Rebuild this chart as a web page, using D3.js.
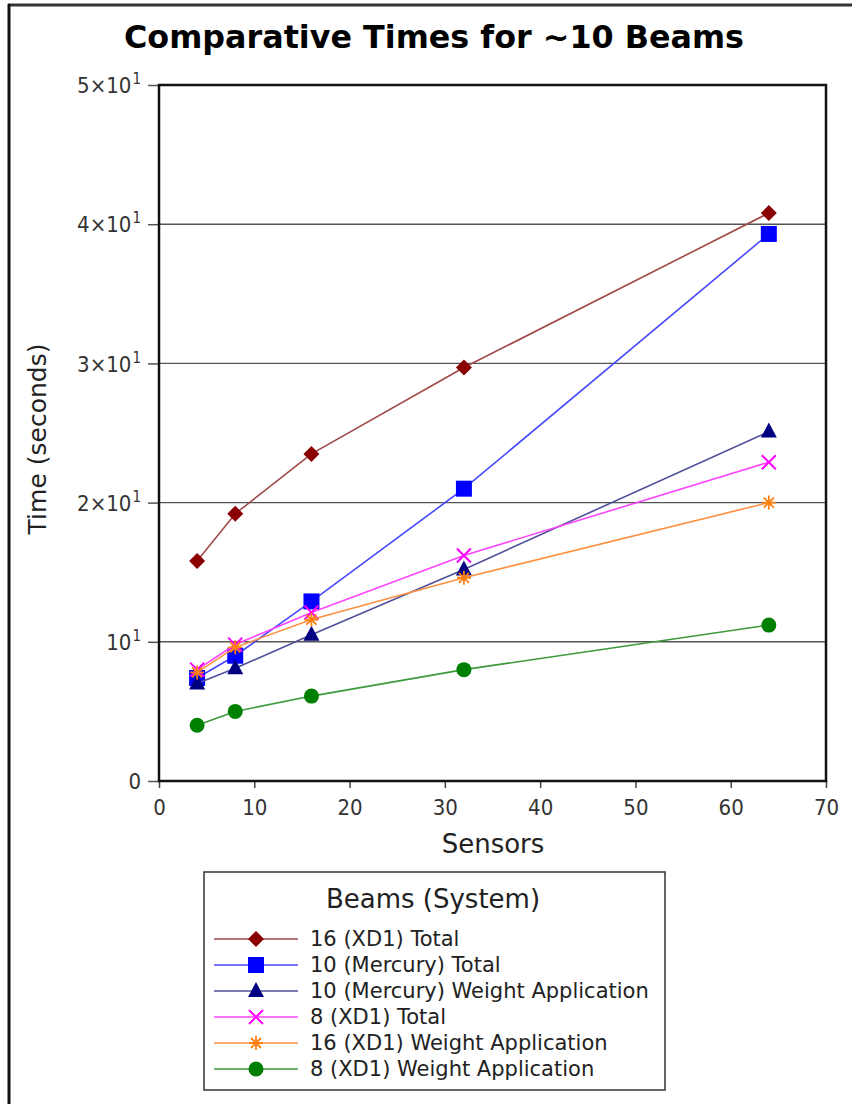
<!DOCTYPE html>
<html><head><meta charset="utf-8">
<script src="https://cdn.jsdelivr.net/npm/d3@7"></script>
<style>body{margin:0;background:#fff;}svg{display:block;font-family:"DejaVu Sans",sans-serif;}</style>
</head><body><svg id="c" width="852" height="1104"></svg>
<script>
const sensors = [4, 8, 16, 32, 64];
const seriesNames = ["16 (XD1) Total","10 (Mercury) Total","10 (Mercury) Weight Application","8 (XD1) Total","16 (XD1) Weight Application","8 (XD1) Weight Application"];
const xd1Total16 = [15.8, 19.2, 23.5, 29.7, 40.8];
const mercuryTotal10 = [7.4, 9.0, 12.9, 21.0, 39.3];
const mercuryWeight10 = [7.0, 8.1, 10.5, 15.2, 25.1];
const xd1Total8 = [8.0, 9.8, 12.1, 16.2, 22.9];
const xd1Weight16 = [7.8, 9.6, 11.6, 14.6, 20.0];
const xd1Weight8 = [4.0, 5.0, 6.1, 8.0, 11.2];
const yTicks = [0, 10, 20, 30, 40, 50];
const yTickMant = ["0", "", "2", "3", "4", "5"];
const xTicks = [0, 10, 20, 30, 40, 50, 60, 70];

const seriesVals = [xd1Total16, mercuryTotal10, mercuryWeight10, xd1Total8, xd1Weight16, xd1Weight8];
const markerColor = ["#8b0000", "#0000ff", "#000080", "#ff00ff", "#ff7f0e", "#008000"];
const lineColor = ["#a04848", "#4848ff", "#50509a", "#ff44ff", "#ff9040", "#3c9a3c"];
const shapes = ["diamond", "square", "triangle", "x", "asterisk", "circle"];
const tickFont = "'DejaVu Sans Condensed', 'DejaVu Sans', sans-serif";

const svg = d3.select("#c");
svg.append("rect").attr("x", 0).attr("y", 0).attr("width", 852).attr("height", 1104).attr("fill", "#fff");
svg.append("line").attr("x1", 8).attr("x2", 852).attr("y1", 5).attr("y2", 5).attr("stroke", "#333").attr("stroke-width", 3);
svg.append("line").attr("x1", 9).attr("x2", 9).attr("y1", 4).attr("y2", 1104).attr("stroke", "#111").attr("stroke-width", 3);

const L = 159, R = 826, T = 85, B = 781;
const x = d3.scaleLinear().domain([0, 70]).range([L, R]);
const y = d3.scaleLinear().domain([0, 50]).range([B, T]);

svg.append("text").attr("x", 434).attr("y", 48).attr("text-anchor", "middle")
  .attr("font-size", 32).attr("font-weight", "bold").attr("fill", "#000")
  .attr("textLength", 620).attr("lengthAdjust", "spacingAndGlyphs")
  .text("Comparative Times for ~10 Beams");

svg.append("g").selectAll("line").data(yTicks.filter(d => d > 0 && d < 50)).join("line")
  .attr("x1", L).attr("x2", R).attr("y1", d => y(d)).attr("y2", d => y(d))
  .attr("stroke", "#555").attr("stroke-width", 1.4);

const xAxis = svg.append("g").attr("transform", `translate(0,${B})`)
  .call(d3.axisBottom(x).tickValues(xTicks).tickSize(7).tickPadding(11).tickFormat(d3.format("d")));
xAxis.select(".domain").remove();
xAxis.selectAll("line").attr("stroke", "#444").attr("stroke-width", 1.5);
xAxis.selectAll("text").attr("font-size", 22).attr("fill", "#333").attr("font-family", tickFont);

const yAxis = svg.append("g").attr("transform", `translate(${L},0)`)
  .call(d3.axisLeft(y).tickValues(yTicks).tickSize(11).tickPadding(7).tickFormat(() => ""));
yAxis.select(".domain").remove();
yAxis.selectAll("line").attr("stroke", "#555").attr("stroke-width", 1.5);
yAxis.selectAll(".tick text").each(function(d, i) {
  const t = d3.select(this).attr("font-size", 22).attr("fill", "#333").attr("font-family", tickFont).attr("dy", "0.35em");
  if (d === 0) { t.text("0"); return; }
  const m = yTickMant[i];
  t.append("tspan").text(m ? m + "×10" : "10");
  t.append("tspan").attr("dy", "-0.6em").attr("dx", 1).attr("font-size", 15).text("1");
});

svg.append("rect").attr("x", L).attr("y", T).attr("width", R - L).attr("height", B - T)
  .attr("fill", "none").attr("stroke", "#111").attr("stroke-width", 2.5);

svg.append("text").attr("x", 493).attr("y", 853).attr("text-anchor", "middle").attr("font-size", 26).attr("fill", "#222").text("Sensors");
svg.append("text").attr("transform", "translate(46,439) rotate(-90)").attr("text-anchor", "middle").attr("font-size", 25).attr("fill", "#222").text("Time (seconds)");

function drawMarker(g, shape, cx, cy, color) {
  if (shape === "diamond") {
    g.append("path").attr("d", `M${cx},${cy-8}L${cx+8},${cy}L${cx},${cy+8}L${cx-8},${cy}Z`).attr("fill", color);
  } else if (shape === "square") {
    g.append("rect").attr("x", cx-8).attr("y", cy-8).attr("width", 16).attr("height", 16).attr("fill", color);
  } else if (shape === "triangle") {
    g.append("path").attr("d", `M${cx},${cy-9}L${cx+8},${cy+6}L${cx-8},${cy+6}Z`).attr("fill", color);
  } else if (shape === "x") {
    g.append("path").attr("d", `M${cx-7},${cy-7}L${cx+7},${cy+7}M${cx-7},${cy+7}L${cx+7},${cy-7}`).attr("stroke", color).attr("stroke-width", 2);
  } else if (shape === "asterisk") {
    g.append("path").attr("d", `M${cx-7},${cy}L${cx+7},${cy}M${cx},${cy-7}L${cx},${cy+7}M${cx-5},${cy-5}L${cx+5},${cy+5}M${cx-5},${cy+5}L${cx+5},${cy-5}`).attr("stroke", color).attr("stroke-width", 1.8);
  } else if (shape === "circle") {
    g.append("circle").attr("cx", cx).attr("cy", cy).attr("r", 7.5).attr("fill", color);
  }
}

const line = d3.line().x((d, i) => x(sensors[i])).y(d => y(d));
const plot = svg.append("g");
seriesVals.forEach((vals, s) => {
  const g = plot.append("g");
  g.append("path").datum(vals).attr("d", line).attr("fill", "none").attr("stroke", lineColor[s]).attr("stroke-width", 1.6);
  vals.forEach((v, i) => drawMarker(g, shapes[s], x(sensors[i]), y(v), markerColor[s]));
});

const lg = svg.append("g");
lg.append("rect").attr("x", 204).attr("y", 872).attr("width", 461).attr("height", 218).attr("fill", "#fff").attr("stroke", "#333").attr("stroke-width", 1.5);
lg.append("text").attr("x", 433).attr("y", 908).attr("text-anchor", "middle").attr("font-size", 26).attr("fill", "#222").text("Beams (System)");
seriesNames.forEach((name, s) => {
  const cy = 939 + s * 26;
  lg.append("line").attr("x1", 214).attr("x2", 298).attr("y1", cy).attr("y2", cy).attr("stroke", lineColor[s]).attr("stroke-width", 1.6);
  drawMarker(lg, shapes[s], 256, cy, markerColor[s]);
  lg.append("text").attr("x", 310).attr("y", cy).attr("dy", "0.35em").attr("font-size", 21).attr("fill", "#222").text(name);
});
</script></body></html>
